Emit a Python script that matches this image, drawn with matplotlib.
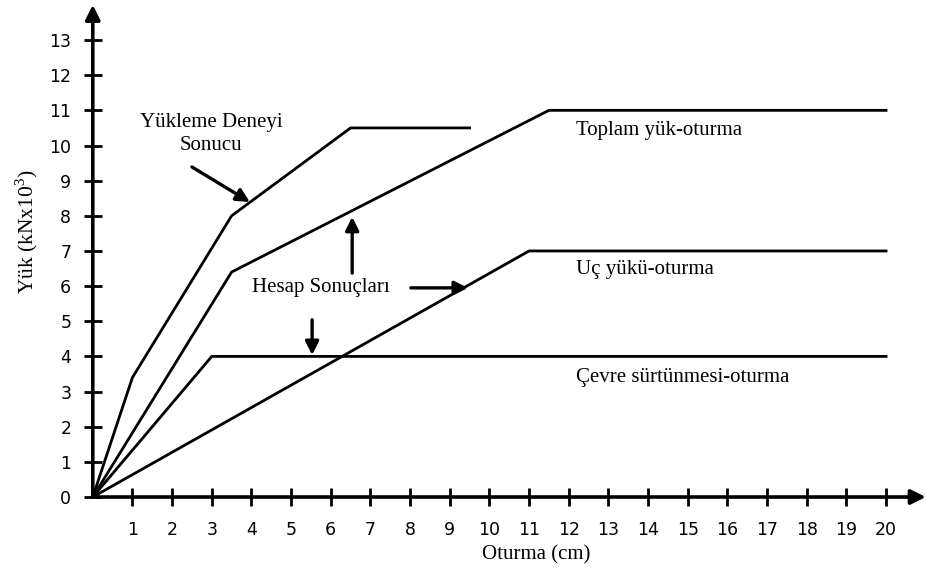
#coding:utf-8
import matplotlib
matplotlib.use('Agg')
import matplotlib.pyplot as plt

plt.rcParams['mathtext.fontset'] = 'custom'
plt.rcParams['mathtext.rm'] = 'Liberation Serif'

# veriler (oturma cm, yuk kNx10^3)
x_yukleme = [0, 1, 3.5, 6.5, 9.5]
y_yukleme = [0, 3.4, 8, 10.5, 10.5]
x_toplam = [0, 3.5, 11.5, 20]
y_toplam = [0, 6.4, 11, 11]
x_uc = [0, 11, 20]
y_uc = [0, 7, 7]
x_cevre = [0, 3, 20]
y_cevre = [0, 4, 4]

x_ticks = list(range(1, 21))
y_ticks = list(range(0, 14))

serif = 'Liberation Serif'
fs = 15

fig = plt.figure(figsize=(9.26, 5.69), dpi=100)
ax = fig.add_axes([0.1002, 0.1265, 0.8995, 0.8649])
ax.set_xlim(0, 21)
ax.set_ylim(0, 14)
for s in ax.spines.values():
    s.set_visible(False)

# eksen oklari
arrow_kw = dict(arrowstyle='-|>', lw=2.6, color='k', mutation_scale=22,
                shrinkA=0, shrinkB=0)
ax.annotate('', xy=(21, 0), xytext=(0, 0), arrowprops=arrow_kw, annotation_clip=False)
ax.annotate('', xy=(0, 14), xytext=(0, 0), arrowprops=arrow_kw, annotation_clip=False)

ax.set_xticks(x_ticks)
ax.set_yticks(y_ticks)
ax.tick_params(axis='both', direction='inout', length=13, width=2, colors='k',
               labelsize=12.5)
ax.tick_params(axis='x', pad=10.5)
ax.tick_params(axis='y', pad=9)

lw = 2.0
ax.plot(x_yukleme, y_yukleme, '-', color='k', lw=lw, clip_on=False)
ax.plot(x_toplam, y_toplam, '-', color='k', lw=lw, clip_on=False)
ax.plot(x_uc, y_uc, '-', color='k', lw=lw, clip_on=False)
ax.plot(x_cevre, y_cevre, '-', color='k', lw=lw, clip_on=False)

# yazilar
ax.text(2.98, 10.33, u'Yükleme Deneyi\nSonucu', ha='center', va='center',
        fontsize=fs, family=serif, linespacing=1.3)
ax.text(12.18, 10.44, u'Toplam yük-oturma', ha='left', va='center', fontsize=fs, family=serif)
ax.text(12.18, 6.46, u'Uç yükü-oturma', ha='left', va='center', fontsize=fs, family=serif)
ax.text(12.18, 3.41, u'Çevre sürtünmesi-oturma', ha='left', va='center', fontsize=fs, family=serif)
ax.text(4.01, 5.95, u'Hesap Sonuçları', ha='left', va='center', fontsize=fs, family=serif)

# isaret oklari
ok = dict(arrowstyle='-|>', lw=2.4, color='k', mutation_scale=20, shrinkA=0, shrinkB=0)
ax.annotate('', xy=(3.96, 8.39), xytext=(2.50, 9.39), arrowprops=ok)
ax.annotate('', xy=(6.54, 7.97), xytext=(6.54, 6.37), arrowprops=ok)
ax.annotate('', xy=(9.46, 5.95), xytext=(8.02, 5.95), arrowprops=ok)
ax.annotate('', xy=(5.53, 4.04), xytext=(5.53, 5.04), arrowprops=ok)

fig.text(0.5788, 0.0246, 'Oturma (cm)', ha='center', va='center', fontsize=fs, family=serif)
fig.text(0.0292, 0.5923, u'Yük (kNx10$^3$)', ha='center', va='center', rotation=90,
         fontsize=fs + 0.5, family=serif)

plt.savefig('out.png', dpi=100)
